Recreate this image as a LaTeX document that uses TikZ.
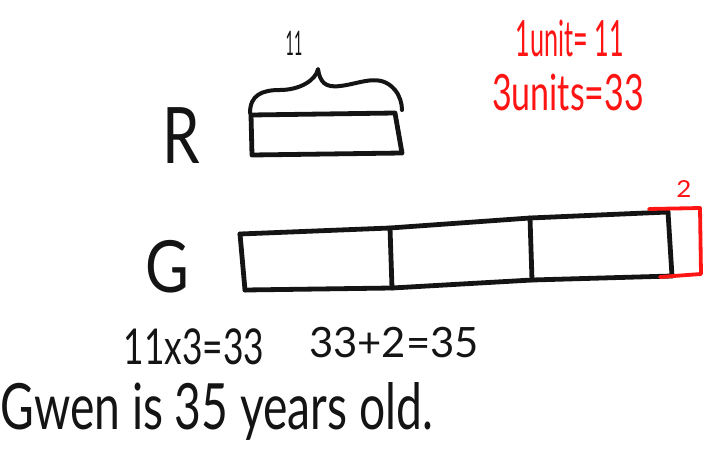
\documentclass[tikz,border=0pt]{standalone}
\usepackage{fontspec}
\setmainfont{Lato}
\definecolor{pen}{RGB}{20,20,20}
\definecolor{redpen}{RGB}{255,20,20}
\tikzset{
  ink/.style={draw=pen, line width=4.8pt, line cap=round, line join=round},
  redink/.style={draw=redpen, line width=3.8pt, line cap=round, line join=round},
  hand/.style={text=pen, inner sep=0pt, anchor=center},
  redhand/.style={text=redpen, inner sep=0pt, anchor=center}
}
\newcommand{\hs}[3]{\scalebox{#1}[#2]{#3}}
\begin{document}
\begin{tikzpicture}[x=1pt,y=-1pt]
\useasboundingbox (0,0) rectangle (704,463);
\fill[white] (0,0) rectangle (704,463);

% labels
\node[hand, font=\fontsize{60}{60}\selectfont] (R) at (181,136) {\hs{1}{1.3}{R}};
\node[hand, font=\fontsize{60}{60}\selectfont] (G) at (167,267) {\hs{1}{1.2}{G}};
\node[hand, font=\fontsize{26}{26}\selectfont] (eleven) at (294,43) {\hs{0.55}{1.3}{11}};

% brace
\draw[ink, line width=4pt] (250,113) .. controls (250,95) and (262,90) .. (280,90)
  .. controls (300,90) and (316,80) .. (318,69)
  .. controls (320,82) and (325,88) .. (340,86)
  .. controls (360,84) and (380,72) .. (395,90)
  .. controls (400,96) and (402,104) .. (402,110);

% R box
\draw[ink] (251,115) -- (395,113) -- (402,153) -- (252,155) -- cycle;

% G bar
\coordinate (g0t) at (240,234);
\coordinate (g1t) at (390,228);
\coordinate (g2t) at (530,218);
\coordinate (g3t) at (668,212);
\coordinate (g0b) at (245,290);
\coordinate (g1b) at (392,288);
\coordinate (g2b) at (532,280);
\coordinate (g3b) at (672,276);
\draw[ink] (g0t) -- (g1t) -- (g2t) -- (g3t);
\draw[ink] (g0b) -- (g1b) -- (g2b) -- (g3b);
\draw[ink] (g0t) -- (g0b);
\draw[ink] (g1t) -- (g1b);
\draw[ink] (g2t) -- (g2b);
\draw[ink] (g3t) -- (g3b);
% red extension
\draw[redink] (649,209) -- (700,208) -- (701,274) -- (660,277);
\node[redhand, font=\fontsize{26}{26}\selectfont] (two) at (684,189) {\hs{1}{0.9}{2}};

% red notes
\node[redhand, font=\fontsize{40}{40}\selectfont] (n1) at (570,38) {\hs{0.63}{1.25}{1unit= 11}};
\node[redhand, font=\fontsize{40}{40}\selectfont] (n2) at (568,92) {\hs{0.85}{1.25}{3units=33}};

% working
\node[hand, font=\fontsize{38}{38}\selectfont] (w1) at (194,347) {\hs{0.93}{1.3}{11x3=33}};
\node[hand, font=\fontsize{38}{38}\selectfont] (w2) at (394,343) {\hs{1.1}{1.1}{33+2=35}};
\node[hand, font=\fontsize{44}{44}\selectfont] (ans) at (217,411) {\hs{1.05}{1.45}{Gwen is 35 years old.}};
\end{tikzpicture}
\end{document}
